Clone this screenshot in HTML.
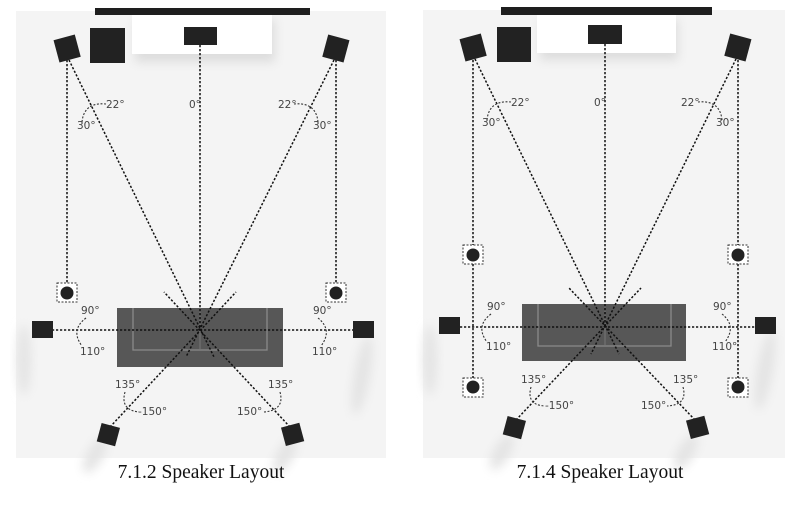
<!DOCTYPE html>
<html><head><meta charset="utf-8"><style>
body{margin:0;background:#fff;width:800px;height:520px;overflow:hidden}
svg{display:block}
.l{fill:none;stroke:#111;stroke-width:1.5;stroke-dasharray:2.2 1.8}
.a{fill:none;stroke:#333;stroke-width:1.1;stroke-dasharray:2 1.6}
.t{font-family:"DejaVu Sans","Liberation Sans",sans-serif;font-size:10.5px;fill:#444}
.cap{font-family:"Liberation Serif",serif;font-size:19.5px;fill:#111}
.sp{fill:#222}
</style></head><body>
<svg width="800" height="520" viewBox="0 0 800 520">
<defs>
<filter id="b" x="-50%" y="-50%" width="200%" height="200%"><feGaussianBlur stdDeviation="5"/></filter>
</defs>

<!-- PANEL 1 -->
<rect x="16" y="11" width="370" height="447" fill="#f4f4f4"/>
<rect x="135" y="20" width="140" height="42" fill="#ddd" filter="url(#b)"/>
<rect x="95" y="8" width="215" height="7" fill="#1e1e1e"/>
<rect x="132" y="15" width="140" height="39" fill="#fff"/>
<rect x="184" y="27" width="33" height="18" class="sp"/>
<rect x="90" y="28" width="35" height="35" class="sp"/>
<ellipse cx="24" cy="360" rx="7" ry="35" fill="#e4e4e4" filter="url(#b)"/>
<ellipse cx="362" cy="375" rx="8" ry="40" fill="#e4e4e4" filter="url(#b)" transform="rotate(10 362 375)"/>
<ellipse cx="95" cy="455" rx="8" ry="20" fill="#e4e4e4" filter="url(#b)" transform="rotate(30 95 455)"/>
<ellipse cx="285" cy="455" rx="8" ry="20" fill="#e4e4e4" filter="url(#b)" transform="rotate(30 285 455)"/>
<rect x="117" y="308" width="166" height="59" fill="#575757"/>
<path d="M133 308 V350 H267 V308" fill="none" stroke="#8a8a8a" stroke-width="1.3"/>
<line x1="200" y1="308" x2="200" y2="350" stroke="#777" stroke-width="1"/>
<line class="l" x1="200" y1="45" x2="200" y2="330"/>
<line class="l" x1="67" y1="60" x2="67" y2="283"/>
<line class="l" x1="336" y1="60" x2="336" y2="283"/>
<line class="l" x1="69" y1="60" x2="214" y2="357"/>
<line class="l" x1="334" y1="60" x2="186" y2="357"/>
<line class="l" x1="52" y1="330" x2="353" y2="330"/>
<line class="l" x1="110" y1="427" x2="236" y2="292"/>
<line class="l" x1="290" y1="427" x2="164" y2="292"/>
<rect x="56" y="37" width="22" height="23" class="sp" transform="rotate(-15 67 48)"/>
<rect x="325" y="37" width="22" height="23" class="sp" transform="rotate(15 336 48)"/>
<rect x="57" y="283" width="20" height="19" fill="#fff" stroke="#333" stroke-dasharray="2 1.5"/>
<circle cx="67" cy="293" r="6.5" class="sp"/>
<rect x="326" y="283" width="20" height="19" fill="#fff" stroke="#333" stroke-dasharray="2 1.5"/>
<circle cx="336" cy="293" r="6.5" class="sp"/>
<rect x="32" y="321" width="21" height="17" class="sp"/>
<rect x="353" y="321" width="21" height="17" class="sp"/>
<rect x="99" y="425" width="19" height="19" class="sp" transform="rotate(15 108 434)"/>
<rect x="283" y="425" width="19" height="19" class="sp" transform="rotate(-15 292 434)"/>
<path class="a" d="M82 122 Q84 102 106 104"/>
<path class="a" d="M318 122 Q316 102 294 104"/>
<path class="a" d="M86 318 Q70 330 82 346"/>
<path class="a" d="M318 318 Q333 330 321 346"/>
<path class="a" d="M125 392 Q120 410 139 412"/>
<path class="a" d="M280 392 Q285 410 264 412"/>
<text class="t" x="106" y="108">22°</text>
<text class="t" x="77" y="129">30°</text>
<text class="t" x="189" y="108">0°</text>
<text class="t" x="278" y="108">22°</text>
<text class="t" x="313" y="129">30°</text>
<text class="t" x="81" y="314">90°</text>
<text class="t" x="80" y="355">110°</text>
<text class="t" x="313" y="314">90°</text>
<text class="t" x="312" y="355">110°</text>
<text class="t" x="115" y="388">135°</text>
<text class="t" x="138" y="415">-150°</text>
<text class="t" x="268" y="388">135°</text>
<text class="t" x="237" y="415">150°</text>
<text class="cap" x="201" y="478" text-anchor="middle">7.1.2 Speaker Layout</text>

<!-- PANEL 2 -->
<rect x="423" y="10" width="362" height="448" fill="#f4f4f4"/>
<rect x="540" y="20" width="138" height="40" fill="#ddd" filter="url(#b)"/>
<rect x="501" y="7" width="211" height="8" fill="#1e1e1e"/>
<rect x="537" y="15" width="139" height="38" fill="#fff"/>
<rect x="588" y="25" width="34" height="19" class="sp"/>
<rect x="497" y="27" width="34" height="35" class="sp"/>
<ellipse cx="430" cy="360" rx="7" ry="35" fill="#e4e4e4" filter="url(#b)"/>
<ellipse cx="765" cy="370" rx="8" ry="40" fill="#e4e4e4" filter="url(#b)" transform="rotate(10 765 370)"/>
<ellipse cx="502" cy="452" rx="8" ry="20" fill="#e4e4e4" filter="url(#b)" transform="rotate(30 502 452)"/>
<ellipse cx="686" cy="452" rx="8" ry="20" fill="#e4e4e4" filter="url(#b)" transform="rotate(30 686 452)"/>
<rect x="522" y="304" width="164" height="57" fill="#575757"/>
<path d="M538 304 V346 H671 V304" fill="none" stroke="#8a8a8a" stroke-width="1.3"/>
<line x1="605" y1="304" x2="605" y2="346" stroke="#777" stroke-width="1"/>
<line class="l" x1="605" y1="44" x2="605" y2="327"/>
<line class="l" x1="473" y1="60" x2="473" y2="378"/>
<line class="l" x1="738" y1="60" x2="738" y2="378"/>
<line class="l" x1="475" y1="59" x2="619" y2="354"/>
<line class="l" x1="736" y1="59" x2="591" y2="354"/>
<line class="l" x1="460" y1="327" x2="755" y2="327"/>
<line class="l" x1="516" y1="420" x2="641" y2="288"/>
<line class="l" x1="695" y1="420" x2="569" y2="288"/>
<rect x="462" y="36" width="22" height="23" class="sp" transform="rotate(-15 473 47)"/>
<rect x="727" y="36" width="22" height="23" class="sp" transform="rotate(15 738 47)"/>
<rect x="463" y="245" width="20" height="19" fill="#fff" stroke="#333" stroke-dasharray="2 1.5"/>
<circle cx="473" cy="255" r="6.5" class="sp"/>
<rect x="728" y="245" width="20" height="19" fill="#fff" stroke="#333" stroke-dasharray="2 1.5"/>
<circle cx="738" cy="255" r="6.5" class="sp"/>
<rect x="463" y="378" width="20" height="19" fill="#fff" stroke="#333" stroke-dasharray="2 1.5"/>
<circle cx="473" cy="387" r="6.5" class="sp"/>
<rect x="728" y="378" width="20" height="19" fill="#fff" stroke="#333" stroke-dasharray="2 1.5"/>
<circle cx="738" cy="387" r="6.5" class="sp"/>
<rect x="439" y="317" width="21" height="17" class="sp"/>
<rect x="755" y="317" width="21" height="17" class="sp"/>
<rect x="505" y="418" width="19" height="19" class="sp" transform="rotate(15 514 427)"/>
<rect x="688" y="418" width="19" height="19" class="sp" transform="rotate(-15 697 427)"/>
<path class="a" d="M487 120 Q489 100 511 102"/>
<path class="a" d="M722 120 Q720 100 698 102"/>
<path class="a" d="M491 314 Q475 326 487 342"/>
<path class="a" d="M722 314 Q737 326 725 342"/>
<path class="a" d="M531 387 Q526 405 545 406"/>
<path class="a" d="M683 387 Q688 405 667 406"/>
<text class="t" x="511" y="106">22°</text>
<text class="t" x="482" y="126">30°</text>
<text class="t" x="594" y="106">0°</text>
<text class="t" x="681" y="106">22°</text>
<text class="t" x="716" y="126">30°</text>
<text class="t" x="487" y="310">90°</text>
<text class="t" x="486" y="350">110°</text>
<text class="t" x="713" y="310">90°</text>
<text class="t" x="712" y="350">110°</text>
<text class="t" x="521" y="383">135°</text>
<text class="t" x="545" y="409">-150°</text>
<text class="t" x="673" y="383">135°</text>
<text class="t" x="641" y="409">150°</text>
<text class="cap" x="600" y="478" text-anchor="middle">7.1.4 Speaker Layout</text>
</svg>
</body></html>
